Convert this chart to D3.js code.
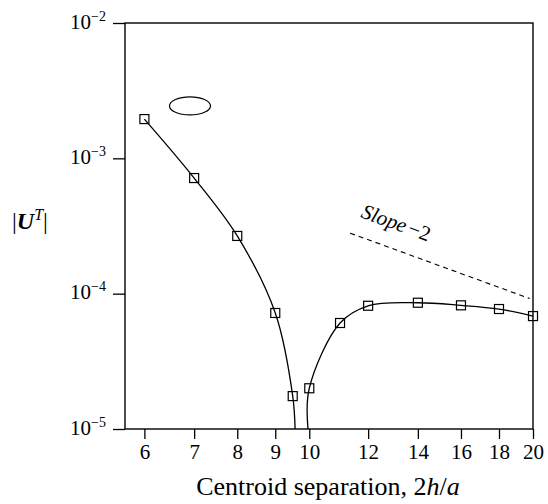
<!DOCTYPE html>
<html>
<head>
<meta charset="utf-8">
<script src="https://cdn.jsdelivr.net/npm/d3@7"></script>
<style>
  body { margin: 0; background: #fff; }
  text { font-family: "Liberation Serif", "Times New Roman", serif; fill: #000; }
</style>
</head>
<body>
<div id="chart"></div>
<script>
// measured points (squares)
var sepX = [6, 7, 8, 9, 9.5, 10, 11, 12, 14, 16, 18, 20];
var sepU = [1.95e-3, 7.15e-4, 2.67e-4, 7.2e-5, 1.75e-5, 2.0e-5, 6.07e-5, 8.14e-5, 8.57e-5, 8.2e-5, 7.7e-5, 6.83e-5];

// fitted curve, two branches either side of the sign change
var leftCurveX = [6, 7, 8, 9, 9.5, 9.57];
var leftCurveU = [1.95e-3, 7.15e-4, 2.67e-4, 7.2e-5, 1.75e-5, 1.0e-5];
var rightCurveX = [9.96, 10, 11, 12, 14, 16, 18, 20];
var rightCurveU = [1.0e-5, 2.0e-5, 6.07e-5, 8.14e-5, 8.57e-5, 8.2e-5, 7.7e-5, 6.83e-5];

// slope -2 reference line
var slopeX = [11.35, 19.8];
var slopeU = [2.8e-4, 2.8e-4 * Math.pow(11.35 / 19.8, 2)];

var xTicks = [6, 7, 8, 9, 10, 12, 14, 16, 18, 20];
var yTicks = [1e-5, 1e-4, 1e-3, 1e-2];
var yTickExp = ["\u22125", "\u22124", "\u22123", "\u22122"];

var width = 548, height = 504;
var margin = { top: 23, right: 15, bottom: 75, left: 125 };

var svg = d3.select("#chart")
    .append("svg")
    .attr("width", width)
    .attr("height", height);

var x = d3.scaleLog()
    .domain([5.65, 20])
    .range([margin.left, width - margin.right]);

var y = d3.scaleLog()
    .domain([1e-5, 1e-2])
    .range([height - margin.bottom, margin.top]);

svg.append("clipPath").attr("id", "plotClip")
    .append("rect")
    .attr("x", margin.left).attr("y", margin.top)
    .attr("width", width - margin.left - margin.right)
    .attr("height", height - margin.top - margin.bottom);

// frame
svg.append("rect")
    .attr("x", margin.left).attr("y", margin.top)
    .attr("width", width - margin.left - margin.right)
    .attr("height", height - margin.top - margin.bottom)
    .attr("fill", "none")
    .attr("stroke", "#000")
    .attr("stroke-width", 1.4);

// X axis
var xAxis = svg.append("g")
    .attr("transform", "translate(0," + (height - margin.bottom) + ")")
    .call(d3.axisBottom(x).tickValues(xTicks).tickFormat(d3.format("d")).tickSize(10).tickSizeOuter(0));
xAxis.select(".domain").remove();
xAxis.selectAll(".tick line").attr("stroke-width", 1.3);
xAxis.selectAll(".tick text")
    .attr("y", 30)
    .attr("dy", 0)
    .attr("fill", "#000")
    .style("font-size", "21px")
    .style("font-family", "Liberation Serif");

// Y axis
var yAxis = svg.append("g")
    .attr("transform", "translate(" + margin.left + ",0)")
    .call(d3.axisLeft(y).tickValues(yTicks).tickFormat("").tickSize(12).tickSizeOuter(0));
yAxis.select(".domain").remove();
yAxis.selectAll(".tick line").attr("stroke-width", 1.3);
yAxis.selectAll(".tick").each(function (d, i) {
    d3.select(this).append("text")
        .attr("x", -34)
        .attr("y", 5)
        .attr("text-anchor", "end")
        .attr("fill", "#000")
        .style("font-size", "21px")
        .text("10");
    d3.select(this).append("text")
        .attr("x", -34)
        .attr("y", -3)
        .attr("text-anchor", "start")
        .attr("fill", "#000")
        .style("font-size", "14px")
        .text(yTickExp[i]);
});

// curve
var line = d3.line()
    .x(function (d) { return x(d[0]); })
    .y(function (d) { return y(d[1]); })
    .curve(d3.curveCatmullRom.alpha(0.5));

var curveG = svg.append("g").attr("clip-path", "url(#plotClip)");
curveG.append("path")
    .datum(d3.zip(leftCurveX, leftCurveU))
    .attr("d", line)
    .attr("fill", "none")
    .attr("stroke", "#000")
    .attr("stroke-width", 1.3);
curveG.append("path")
    .datum(d3.zip(rightCurveX, rightCurveU))
    .attr("d", line)
    .attr("fill", "none")
    .attr("stroke", "#000")
    .attr("stroke-width", 1.3);

// squares
var sq = 9;
svg.append("g")
    .selectAll("rect")
    .data(d3.zip(sepX, sepU))
    .enter()
    .append("rect")
    .attr("x", function (d) { return x(d[0]) - sq / 2; })
    .attr("y", function (d) { return y(d[1]) - sq / 2; })
    .attr("width", sq)
    .attr("height", sq)
    .attr("fill", "none")
    .attr("stroke", "#000")
    .attr("stroke-width", 1.2);

// slope -2 line
svg.append("path")
    .datum(d3.zip(slopeX, slopeU))
    .attr("d", d3.line().x(function (d) { return x(d[0]); }).y(function (d) { return y(d[1]); }))
    .attr("stroke", "#000")
    .attr("stroke-width", 1.1)
    .attr("stroke-dasharray", "5,4")
    .attr("fill", "none");

var slopeLabel = svg.append("text")
    .attr("transform", "translate(" + x(11.7) + "," + y(3.68e-4) + ") rotate(20)")
    .attr("fill", "#000")
    .style("font-size", "21px");
slopeLabel.append("tspan").style("font-style", "italic").text("Slope");
slopeLabel.append("tspan").attr("dx", 3).text("\u22122");

// ellipse (particle shape icon)
svg.append("ellipse")
    .attr("cx", x(6.91))
    .attr("cy", y(2.44e-3))
    .attr("rx", 20.5)
    .attr("ry", 9)
    .attr("fill", "none")
    .attr("stroke", "#000")
    .attr("stroke-width", 1.2);

// axis titles
var xt = svg.append("text")
    .attr("x", 328)
    .attr("y", 495)
    .attr("text-anchor", "middle")
    .attr("fill", "#000")
    .style("font-size", "26px");
xt.append("tspan").text("Centroid separation, 2");
xt.append("tspan").style("font-style", "italic").text("h");
xt.append("tspan").text("/");
xt.append("tspan").style("font-style", "italic").text("a");

var yt = svg.append("text")
    .attr("x", 12)
    .attr("y", 229)
    .attr("fill", "#000")
    .style("font-size", "24px");
yt.append("tspan").attr("fill", "#000").text("|");
yt.append("tspan").attr("fill", "#000").style("font-style", "italic").style("font-weight", "bold").text("U");
yt.append("tspan").attr("fill", "#000").attr("dy", -9).style("font-size", "16px").style("font-style", "italic").text("T");
yt.append("tspan").attr("fill", "#000").attr("dy", 9).text("|");
</script>
</body>
</html>
